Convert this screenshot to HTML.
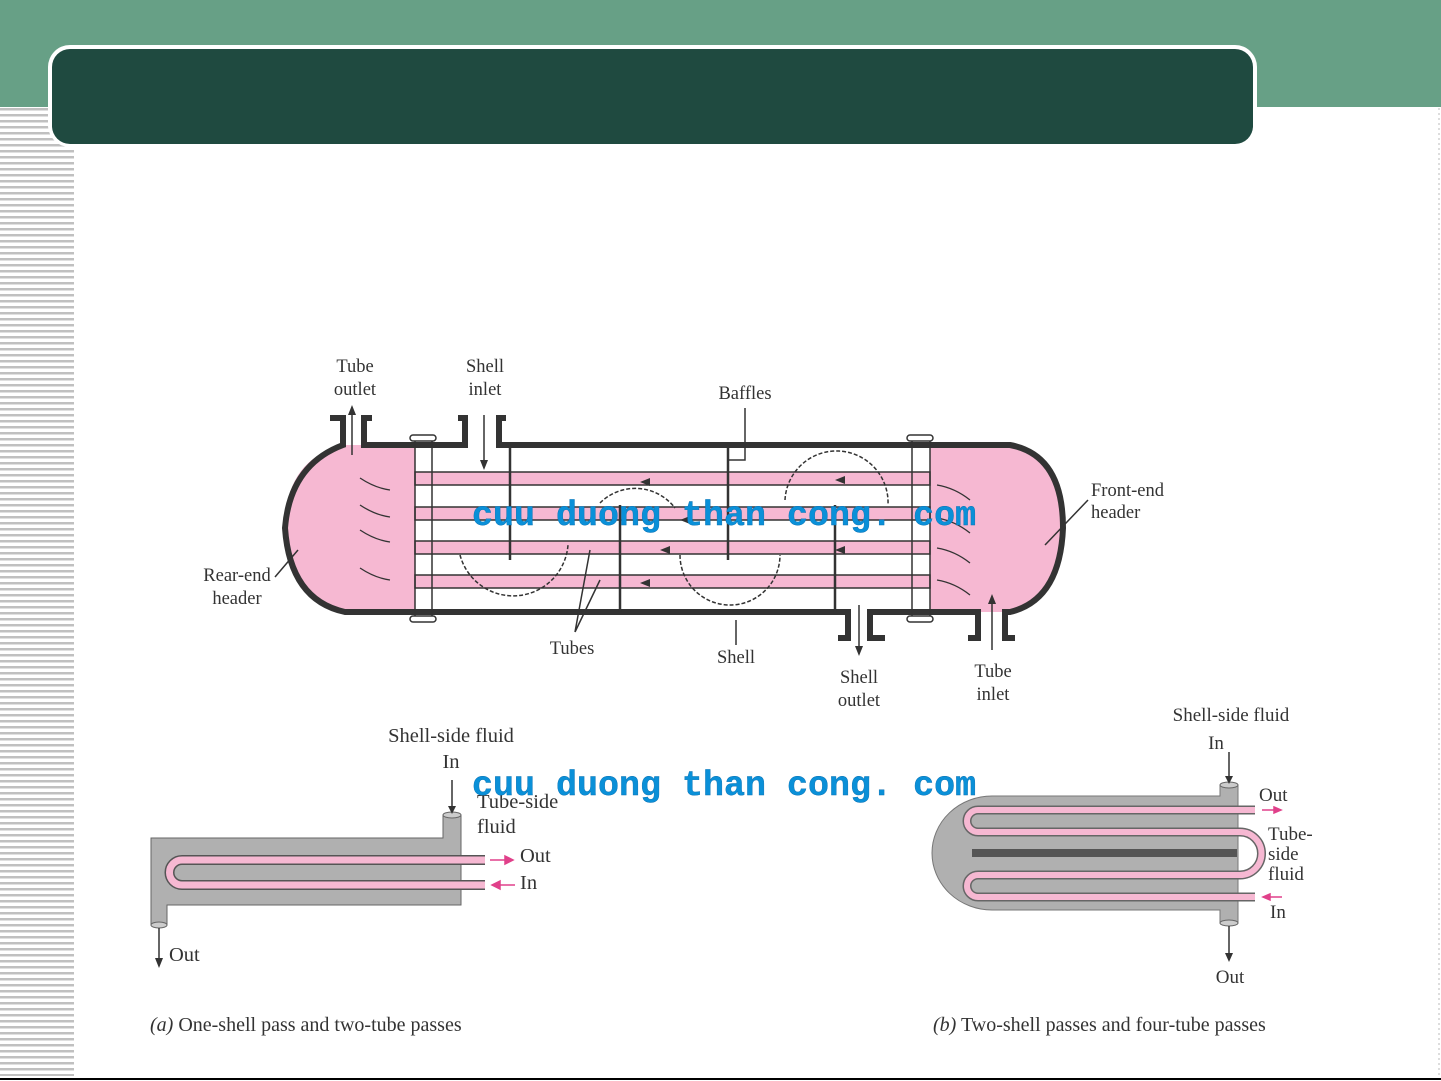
<!DOCTYPE html>
<html><head><meta charset="utf-8"><style>
html,body{margin:0;padding:0;background:#fff;width:1441px;height:1081px;overflow:hidden}
svg{display:block}
text{font-family:"Liberation Serif",serif;fill:#333}
.wm{font-family:"Liberation Mono",monospace;font-weight:bold;font-size:35px;fill:#0a90d8;stroke:#0b6fb0;stroke-width:0.4}
</style></head><body>
<svg width="1441" height="1081" viewBox="0 0 1441 1081" xmlns="http://www.w3.org/2000/svg">
<defs>
<pattern id="st" width="10" height="6" patternUnits="userSpaceOnUse"><rect width="10" height="2.5" fill="#c0c0c0"/></pattern>
</defs>
<rect x="0" y="0" width="1441" height="107" fill="#67a086"/>
<rect x="0" y="108" width="74" height="968" fill="url(#st)"/>
<rect x="48" y="45" width="1209" height="102" rx="22" fill="#fff"/>
<rect x="52" y="49" width="1201" height="95" rx="18" fill="#1f4a40"/>
<line x1="1439" y1="108" x2="1439" y2="1076" stroke="#bbb" stroke-dasharray="2,3"/>
<line x1="0" y1="1079" x2="1441" y2="1079" stroke="#000" stroke-width="2"/>

<!-- main exchanger -->
<path d="M345 445 L415 445 L415 612 L345 612 Q285 600 285 528 Q285 458 345 445Z" fill="#f6b8d2"/>
<path d="M930 445 L1010 445 Q1063 455 1063 528 Q1063 600 1010 612 L930 612Z" fill="#f6b8d2"/>
<g fill="#f6b8d2" stroke="#333" stroke-width="1.5">
<rect x="415" y="472" width="515" height="13"/>
<rect x="415" y="507" width="515" height="13"/>
<rect x="415" y="541" width="515" height="13"/>
<rect x="415" y="575" width="515" height="13"/>
</g>
<g fill="none" stroke="#333" stroke-width="6">
<path d="M330 418 L343 418 L343 445 Q290 465 285 528 Q290 600 345 612 L830 612"/>
<path d="M372 418 L364 418 L364 445 L465 445 L465 418 L458 418"/>
<path d="M506 418 L499 418 L499 445 L1010 445 Q1063 455 1063 528 Q1060 600 1010 612 L1005 612 L1005 638 L1015 638"/>
<path d="M830 612 L848 612 L848 638 L838 638"/>
<path d="M885 638 L870 638 L870 612 L978 612 L978 638 L968 638"/>
</g>
<g stroke="#333" stroke-width="1.5" fill="none">
<line x1="415" y1="440" x2="415" y2="618"/><line x1="432" y1="440" x2="432" y2="618"/>
<line x1="912" y1="440" x2="912" y2="618"/><line x1="930" y1="440" x2="930" y2="618"/>
<rect x="410" y="435" width="26" height="6" rx="3" fill="#fff"/>
<rect x="410" y="616" width="26" height="6" rx="3" fill="#fff"/>
<rect x="907" y="435" width="26" height="6" rx="3" fill="#fff"/>
<rect x="907" y="616" width="26" height="6" rx="3" fill="#fff"/>
<line x1="510" y1="445" x2="510" y2="560" stroke-width="2.5"/>
<line x1="620" y1="505" x2="620" y2="612" stroke-width="2.5"/>
<line x1="728" y1="445" x2="728" y2="560" stroke-width="2.5"/>
<line x1="835" y1="505" x2="835" y2="612" stroke-width="2.5"/>
<path d="M745 408 L745 460 L728 460"/>
<path d="M600 503 A50 50 0 0 1 675 508" stroke-dasharray="4,2"/>
<path d="M460 555 A55 55 0 0 0 568 545" stroke-dasharray="4,2"/>
<path d="M785 500 A50 50 0 0 1 888 505" stroke-dasharray="4,2"/>
<path d="M680 555 A50 50 0 0 0 780 555" stroke-dasharray="4,2"/>
<path d="M575 632 L590 550 M575 632 L600 580"/>
<line x1="352" y1="455" x2="352" y2="410"/>
<line x1="484" y1="415" x2="484" y2="462"/>
<line x1="859" y1="605" x2="859" y2="650"/>
<line x1="992" y1="650" x2="992" y2="600"/>
<line x1="736" y1="645" x2="736" y2="620"/>
<line x1="275" y1="577" x2="298" y2="550"/>
<line x1="1088" y1="500" x2="1045" y2="545"/>
</g>
<g fill="#333">
<path d="M348 415 L352 405 L356 415Z"/><path d="M480 460 L484 470 L488 460Z"/>
<path d="M855 646 L859 656 L863 646Z"/><path d="M988 604 L992 594 L996 604Z"/>
<path d="M640 482 L650 478 L650 486Z"/><path d="M680 520 L690 516 L690 524Z"/>
<path d="M660 550 L670 546 L670 554Z"/><path d="M640 583 L650 579 L650 587Z"/>
<path d="M835 480 L845 476 L845 484Z"/><path d="M835 550 L845 546 L845 554Z"/>
</g>
<g stroke="#333" stroke-width="1.3" fill="none">
<path d="M360 478 Q375 488 390 490"/><path d="M360 505 Q375 515 390 517"/>
<path d="M360 530 Q375 540 390 542"/><path d="M360 568 Q375 578 390 580"/>
<path d="M937 485 Q955 488 970 500"/><path d="M937 518 Q955 521 970 533"/>
<path d="M937 548 Q955 551 970 563"/><path d="M937 580 Q955 583 970 595"/>
</g>
<g font-size="18.5">
<text x="355" y="372" text-anchor="middle">Tube</text>
<text x="355" y="395" text-anchor="middle">outlet</text>
<text x="485" y="372" text-anchor="middle">Shell</text>
<text x="485" y="395" text-anchor="middle">inlet</text>
<text x="745" y="399" text-anchor="middle">Baffles</text>
<text x="1091" y="496">Front-end</text>
<text x="1091" y="518">header</text>
<text x="237" y="581" text-anchor="middle">Rear-end</text>
<text x="237" y="604" text-anchor="middle">header</text>
<text x="572" y="654" text-anchor="middle">Tubes</text>
<text x="736" y="663" text-anchor="middle">Shell</text>
<text x="859" y="683" text-anchor="middle">Shell</text>
<text x="859" y="706" text-anchor="middle">outlet</text>
<text x="993" y="677" text-anchor="middle">Tube</text>
<text x="993" y="700" text-anchor="middle">inlet</text>
</g>

<!-- diagram a -->
<path d="M151 838 L443 838 L443 815 L461 815 L461 905 L167 905 L167 925 L151 925Z" fill="#b0b0b0" stroke="#666"/>
<ellipse cx="452" cy="815" rx="9" ry="3" fill="#ccc" stroke="#666"/>
<ellipse cx="159" cy="925" rx="8" ry="3" fill="#ccc" stroke="#666"/>
<path d="M485 860 L182 860 A12.5 12.5 0 0 0 182 885 L485 885" fill="none" stroke="#555" stroke-width="10"/>
<path d="M485 860 L182 860 A12.5 12.5 0 0 0 182 885 L485 885" fill="none" stroke="#f6b8d2" stroke-width="7"/>
<g stroke="#e0408a" stroke-width="1.5" fill="#e0408a"><line x1="490" y1="860" x2="505" y2="860"/><path d="M505 856 L513 860 L505 864Z"/><line x1="500" y1="885" x2="515" y2="885"/><path d="M500 881 L492 885 L500 889Z"/></g>
<g stroke="#333" stroke-width="1.5"><line x1="452" y1="780" x2="452" y2="808"/><line x1="159" y1="928" x2="159" y2="960"/></g>
<path d="M448 806 L452 814 L456 806Z M155 958 L159 968 L163 958Z" fill="#333"/>
<g font-size="20.5">
<text x="451" y="742" text-anchor="middle">Shell-side fluid</text>
<text x="451" y="768" text-anchor="middle">In</text>
<text x="477" y="808">Tube-side</text>
<text x="477" y="833">fluid</text>
<text x="520" y="862">Out</text>
<text x="520" y="889">In</text>
<text x="169" y="961">Out</text>
</g>
<text x="150" y="1031" font-size="20"><tspan font-style="italic">(a)</tspan> One-shell pass and two-tube passes</text>

<!-- diagram b -->
<path d="M992 796 L1220 796 L1220 785 L1238 785 L1238 923 L1220 923 L1220 910 L992 910 A60 57 0 0 1 992 796Z" fill="#b0b0b0" stroke="#777"/>
<ellipse cx="1229" cy="785" rx="9" ry="3" fill="#ccc" stroke="#666"/>
<ellipse cx="1229" cy="923" rx="9" ry="3" fill="#ccc" stroke="#666"/>
<rect x="972" y="849" width="265" height="8" fill="#555"/>
<g fill="none">
<path d="M1255 810 L978 810 A11 11 0 0 0 978 832 L1240 832 A21.5 21.5 0 0 1 1240 875 L978 875 A11 11 0 0 0 978 897 L1255 897" stroke="#666" stroke-width="9"/>
<path d="M1255 810 L978 810 A11 11 0 0 0 978 832 L1240 832 A21.5 21.5 0 0 1 1240 875 L978 875 A11 11 0 0 0 978 897 L1255 897" stroke="#f6b8d2" stroke-width="6"/>
</g>
<g stroke="#e0408a" stroke-width="1.5" fill="#e0408a"><line x1="1262" y1="810" x2="1274" y2="810"/><path d="M1274 807 L1281 810 L1274 813Z"/><line x1="1270" y1="897" x2="1282" y2="897"/><path d="M1270 894 L1263 897 L1270 900Z"/></g>
<g stroke="#333" stroke-width="1.5"><line x1="1229" y1="752" x2="1229" y2="778"/><line x1="1229" y1="926" x2="1229" y2="955"/></g>
<path d="M1225 776 L1229 784 L1233 776Z M1225 953 L1229 962 L1233 953Z" fill="#333"/>
<g font-size="19">
<text x="1231" y="721" text-anchor="middle">Shell-side fluid</text>
<text x="1216" y="749" text-anchor="middle">In</text>
<text x="1259" y="801">Out</text>
<text x="1268" y="840">Tube-</text>
<text x="1268" y="860">side</text>
<text x="1268" y="880">fluid</text>
<text x="1270" y="918">In</text>
<text x="1230" y="983" text-anchor="middle">Out</text>
</g>
<text x="933" y="1031" font-size="20"><tspan font-style="italic">(b)</tspan> Two-shell passes and four-tube passes</text>

<text class="wm" x="472" y="525">cuu duong than cong. com</text>
<text class="wm" x="472" y="795">cuu duong than cong. com</text>
</svg>
</body></html>
